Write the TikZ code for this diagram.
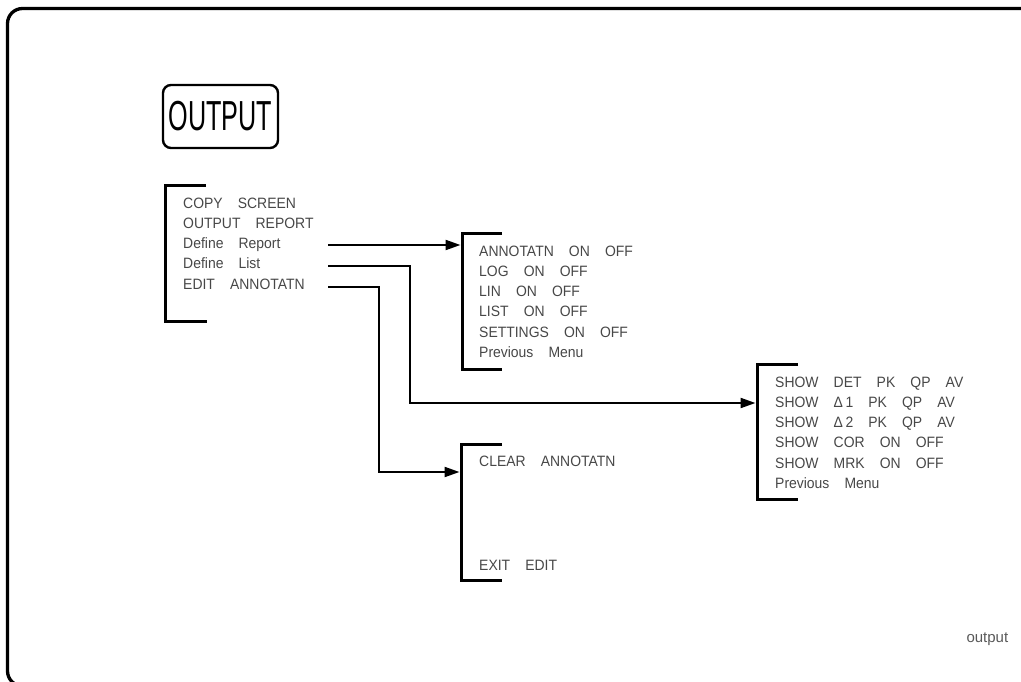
\documentclass[tikz,border=0pt]{standalone}
\usepackage{fontspec}
\setmainfont{Liberation Sans}
\newfontfamily\menufont[FakeStretch=0.93,WordSpace=3.9]{Liberation Sans}
\newfontfamily\keyfont[FakeStretch=0.6]{Liberation Sans}
\usetikzlibrary{arrows.meta,positioning}

\tikzset{
  item/.style={anchor=west, inner sep=0pt, text height=10.5pt, text depth=0pt,
    font=\menufont\fontsize{15}{17}\selectfont, text=black!72},
  keybox/.style={draw, line width=2.4pt, rounded corners=8pt, inner sep=0pt,
    minimum width=115pt, minimum height=63pt, font=\keyfont\fontsize{42}{42}\selectfont},
  bracket/.style={line width=3pt},
  link/.style={->, line width=2.2pt},
}

\begin{document}
\begin{tikzpicture}[x=1pt,y=-1pt,>={Triangle[length=15pt,width=10pt]},node distance=20.2pt,on grid]
    \useasboundingbox (0,0) rectangle (1021,682);
    \draw[line width=3.3pt, rounded corners=15pt] (7.5,8.5) rectangle (1045,686);

    \node[keybox] (output) at (220.5,116.5) {OUTPUT};

    % main menu
    \node[item] (copy) at (183,203) {COPY SCREEN};
    \node (report) [below=of copy.west, item] {OUTPUT REPORT};
    \node (defrep) [below=of report.west, item] {Define Report};
    \node (deflist) [below=of defrep.west, item] {Define List};
    \node (edit) [below=of deflist.west, item] {EDIT ANNOTATN};
    \draw[bracket] (206,186) -| (165,321) -- (207,321);

    % define report menu
    \node[item] (annot) at (479,251) {ANNOTATN ON OFF};
    \node (log) [below=of annot.west, item] {LOG ON OFF};
    \node (lin) [below=of log.west, item] {LIN ON OFF};
    \node (list) [below=of lin.west, item] {LIST ON OFF};
    \node (settings) [below=of list.west, item] {SETTINGS ON OFF};
    \node (prev2) [below=of settings.west, item] {Previous Menu};
    \draw[bracket] (502,234) -| (462,369) -- (502,369);

    % define list menu
    \node[item] (det) at (775,382) {SHOW DET PK QP AV};
    \node (d1) [below=of det.west, item] {SHOW Δ\,1 PK QP AV};
    \node (d2) [below=of d1.west, item] {SHOW Δ\,2 PK QP AV};
    \node (cor) [below=of d2.west, item] {SHOW COR ON OFF};
    \node (mrk) [below=of cor.west, item] {SHOW MRK ON OFF};
    \node (prev3) [below=of mrk.west, item] {Previous Menu};
    \draw[bracket] (798,364) -| (757,499) -- (798,499);

    % edit menu
    \node[item] (clear) at (479,461) {CLEAR ANNOTATN};
    \node (exit) [below=104pt of clear.west, item] {EXIT EDIT};
    \draw[bracket] (502,444) -| (461,580) -- (502,580);

    \node[anchor=base west, font=\fontsize{15}{15}\selectfont, text=black!65] (tag) at (963,642) {output};

    \coordinate (r1) at (328,245);
    \coordinate (r2) at (328,266);
    \coordinate (r3) at (328,287);
    \coordinate (k2) at (410,403);
    \coordinate (k3) at (379,472);
    \coordinate (in2) at (460.5,245);
    \coordinate (in3) at (755.5,403);
    \coordinate (in4) at (459.5,472);

    \draw[link] (r1) -- (in2);
    \draw[link] (r2) -| (k2) -- (in3);
    \draw[link] (r3) -| (k3) -- (in4);
\end{tikzpicture}
\end{document}
